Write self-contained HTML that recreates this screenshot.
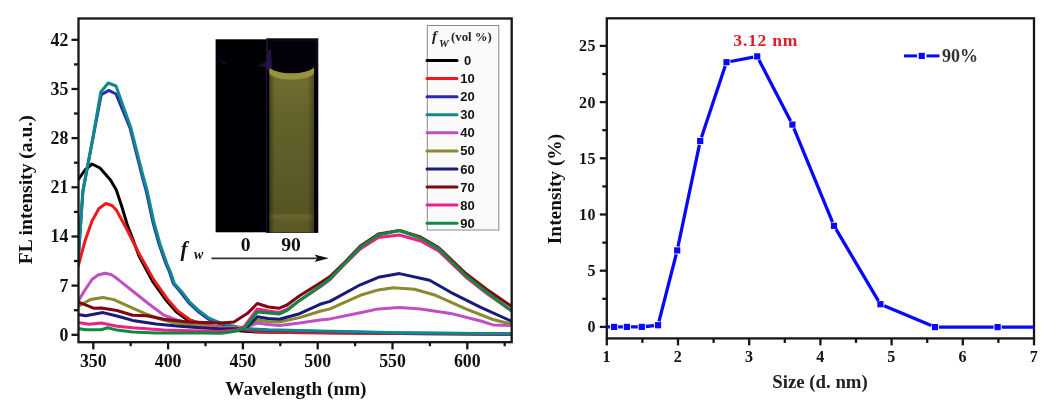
<!DOCTYPE html>
<html><head><meta charset="utf-8"><title>chart</title>
<style>html,body{margin:0;padding:0;background:#fff;}body{width:1060px;height:415px;overflow:hidden;font-family:"Liberation Serif",serif;}</style></head>
<body>
<svg width="1060" height="415" viewBox="0 0 1060 415" style="display:block;filter:blur(0.6px)">
<rect x="0" y="0" width="1060" height="415" fill="#ffffff"/>
<clipPath id="lc"><rect x="78.5" y="18.5" width="433.2" height="323.7"/></clipPath>
<g clip-path="url(#lc)" fill="none" stroke-width="3" stroke-linejoin="round" stroke-linecap="round">
<polyline stroke="#000000" points="78.0,180.0 85.0,170.0 92.0,164.0 100.0,168.0 110.5,180.0 116.3,190.0 121.7,206.3 127.1,224.3 132.0,237.0 139.0,256.0 153.0,282.0 165.5,299.5 176.5,312.0 189.0,321.0 200.0,324.5 210.0,327.0 221.0,329.0 245.0,331.3 257.0,332.0 280.0,332.3 320.0,332.6 400.0,333.4 512.0,334.2"/>
<polyline stroke="#f01818" points="78.0,267.0 85.0,241.0 92.0,221.0 99.0,208.5 105.8,203.5 112.0,205.5 116.3,210.0 127.1,229.8 139.8,255.0 154.2,280.4 166.9,298.4 177.7,311.0 190.4,320.0 201.2,323.7 210.0,325.5 221.3,327.0 244.8,330.0 257.3,331.5 279.3,332.2 299.6,332.8 320.0,333.0 400.0,333.6 512.0,334.3"/>
<polyline stroke="#2a2ab0" points="78.0,264.0 82.8,192.0 92.6,140.0 101.2,94.8 108.8,90.4 116.0,94.0 130.0,128.0 142.6,178.0 146.0,190.0 153.0,222.5 159.0,244.0 166.0,264.0 169.5,272.0 173.3,283.5 180.9,292.5 189.4,303.5 197.8,311.2 207.9,318.8 218.0,323.0 230.0,326.2 244.8,329.0 268.3,330.3 320.0,331.5 400.0,333.0 512.0,333.9"/>
<polyline stroke="#0e8a8a" points="78.0,262.0 83.0,190.0 92.8,138.0 100.8,92.0 108.2,83.0 116.0,86.0 130.8,127.5 143.6,178.0 147.0,190.0 154.0,222.5 160.0,244.0 167.0,264.0 170.5,272.0 174.3,283.5 181.9,291.9 190.4,302.9 198.8,310.5 208.9,318.1 219.0,322.3 230.8,325.5 244.8,328.5 268.3,329.8 320.0,331.0 400.0,332.8 512.0,333.8"/>
<polyline stroke="#c050c0" points="78.0,301.5 85.0,290.0 92.0,279.5 98.0,275.0 105.0,273.2 111.0,274.5 116.3,278.0 121.7,282.3 132.6,291.0 148.3,303.5 164.0,315.2 176.5,320.0 200.0,325.4 221.0,327.5 245.0,327.5 257.3,323.0 268.0,324.5 279.3,325.4 299.6,323.0 320.0,320.0 330.0,318.9 360.3,312.8 378.4,308.9 399.5,307.4 420.6,308.9 450.7,313.4 480.8,321.0 492.9,324.9 511.0,325.5"/>
<polyline stroke="#8a8a30" points="78.0,306.6 84.0,303.0 90.4,299.6 103.0,297.5 113.9,299.6 132.6,308.2 145.2,313.7 160.0,319.0 171.8,322.3 200.0,326.0 221.0,328.0 245.0,327.5 257.3,320.0 268.0,321.5 279.3,322.0 299.6,317.6 320.0,311.3 330.0,308.9 360.3,295.3 378.4,289.9 393.4,287.8 414.5,289.3 435.6,295.3 465.8,308.9 492.9,319.5 511.0,324.0"/>
<polyline stroke="#1a1a78" points="78.0,314.5 85.7,315.7 103.0,312.6 117.0,316.0 132.6,320.4 156.0,323.9 179.6,326.2 200.0,327.8 221.0,329.0 240.0,328.5 248.0,326.2 257.3,316.8 268.0,318.5 279.3,319.2 299.6,313.7 320.0,304.3 330.0,301.4 360.3,284.8 378.4,277.3 399.5,273.6 429.6,280.3 450.7,292.3 480.8,307.4 511.0,321.0"/>
<polyline stroke="#800812" points="78.0,302.0 93.5,308.2 101.3,307.9 117.0,310.5 132.6,315.2 146.7,315.7 164.0,319.2 187.5,322.0 205.7,322.6 221.3,323.0 233.9,322.0 248.0,312.9 257.3,303.5 268.3,307.0 279.3,308.2 287.0,305.0 299.6,295.7 320.0,283.0 330.0,276.5 345.0,262.0 360.3,246.0 378.4,234.0 399.5,230.5 420.6,237.0 438.6,247.5 465.8,273.5 486.9,289.5 511.0,306.0"/>
<polyline stroke="#f0208a" points="78.0,322.6 88.8,324.2 101.3,323.0 117.0,326.2 132.6,327.8 164.0,330.1 200.0,330.9 221.0,331.5 237.0,330.0 244.8,326.0 257.3,309.0 268.3,311.0 279.3,312.5 287.0,309.5 299.6,300.4 320.0,287.0 330.0,279.5 345.0,264.0 360.3,249.0 378.4,237.5 399.5,235.0 420.6,241.0 438.6,251.0 465.8,277.0 486.9,293.5 511.0,310.4"/>
<polyline stroke="#0e8a40" points="78.0,328.6 85.7,329.8 101.3,329.8 107.6,327.8 117.0,330.1 132.6,332.0 156.0,332.9 200.0,333.0 221.3,333.2 237.0,330.9 244.8,327.8 257.3,312.0 268.3,312.9 279.3,314.1 287.0,310.5 299.6,300.4 320.0,286.3 330.0,278.8 345.0,263.0 360.3,247.1 378.4,235.0 399.5,230.5 420.6,238.0 438.6,248.6 465.8,275.8 486.9,292.3 511.0,310.4"/>
</g>
<defs><linearGradient id="liq" x1="0" y1="0" x2="0" y2="1"><stop offset="0" stop-color="#737030"/><stop offset="0.3" stop-color="#64622b"/><stop offset="0.88" stop-color="#565423"/><stop offset="0.9" stop-color="#69672c"/><stop offset="0.93" stop-color="#5e5b27"/><stop offset="1" stop-color="#5a5726"/></linearGradient><linearGradient id="liqx" x1="0" y1="0" x2="1" y2="0"><stop offset="0" stop-color="#000" stop-opacity="0.35"/><stop offset="0.12" stop-color="#000" stop-opacity="0"/><stop offset="0.85" stop-color="#000" stop-opacity="0"/><stop offset="1" stop-color="#000" stop-opacity="0.3"/></linearGradient></defs>
<rect x="215.6" y="39.3" width="51" height="193" fill="#010004"/>
<rect x="266.2" y="38.3" width="52.1" height="194.6" fill="#04010a"/>
<rect x="267.5" y="40" width="49.5" height="30" fill="none" stroke="#1c1230" stroke-width="1"/>
<rect x="269.4" y="68" width="44.6" height="164.5" fill="url(#liq)"/>
<rect x="269.4" y="68" width="44.6" height="164.5" fill="url(#liqx)"/>
<path d="M269.4,65 L314,65 L314,67.5 C307,75.5 276,75.5 269.4,67.5 Z" fill="#04010a"/>
<path d="M269.4,67.3 C276,75.3 307,75.3 314,67.3 L314,73.5 C307,81.5 276,81.5 269.4,73.5 Z" fill="#96953e"/>
<path d="M258,66 L268,60 L268,68 Z" fill="#2a1a55" opacity="0.6"/>
<path d="M219,59 L222,60 L226,64 L224,64.5 Z" fill="#1e1350" opacity="0.7"/>
<path d="M268,50 L271,50 L272,68 L267,70 Z" fill="#2a1a55" opacity="0.8"/>
<rect x="78.5" y="18.5" width="433.2" height="323.7" fill="none" stroke="#161616" stroke-width="2.3"/>
<g stroke="#161616" stroke-width="2.3">
<line x1="71.5" y1="334.8" x2="78.5" y2="334.8"/>
<line x1="71.5" y1="285.6" x2="78.5" y2="285.6"/>
<line x1="71.5" y1="236.5" x2="78.5" y2="236.5"/>
<line x1="71.5" y1="187.3" x2="78.5" y2="187.3"/>
<line x1="71.5" y1="138.1" x2="78.5" y2="138.1"/>
<line x1="71.5" y1="89.0" x2="78.5" y2="89.0"/>
<line x1="71.5" y1="39.8" x2="78.5" y2="39.8"/>
<line x1="74.0" y1="310.2" x2="78.5" y2="310.2"/>
<line x1="74.0" y1="261.0" x2="78.5" y2="261.0"/>
<line x1="74.0" y1="211.9" x2="78.5" y2="211.9"/>
<line x1="74.0" y1="162.7" x2="78.5" y2="162.7"/>
<line x1="74.0" y1="113.5" x2="78.5" y2="113.5"/>
<line x1="74.0" y1="64.4" x2="78.5" y2="64.4"/>
<line x1="93.3" y1="342.2" x2="93.3" y2="349.4"/>
<line x1="168.1" y1="342.2" x2="168.1" y2="349.4"/>
<line x1="242.9" y1="342.2" x2="242.9" y2="349.4"/>
<line x1="317.7" y1="342.2" x2="317.7" y2="349.4"/>
<line x1="392.5" y1="342.2" x2="392.5" y2="349.4"/>
<line x1="467.3" y1="342.2" x2="467.3" y2="349.4"/>
<line x1="130.7" y1="342.2" x2="130.7" y2="346.2"/>
<line x1="205.5" y1="342.2" x2="205.5" y2="346.2"/>
<line x1="280.3" y1="342.2" x2="280.3" y2="346.2"/>
<line x1="355.1" y1="342.2" x2="355.1" y2="346.2"/>
<line x1="429.9" y1="342.2" x2="429.9" y2="346.2"/>
<line x1="504.7" y1="342.2" x2="504.7" y2="346.2"/>
</g>
<g font-family='"Liberation Serif", serif' font-weight="bold" font-size="17.8" fill="#111">
<text x="68.3" y="340.7" text-anchor="end">0</text>
<text x="68.3" y="291.5" text-anchor="end">7</text>
<text x="68.3" y="242.4" text-anchor="end">14</text>
<text x="68.3" y="193.2" text-anchor="end">21</text>
<text x="68.3" y="144.0" text-anchor="end">28</text>
<text x="68.3" y="94.9" text-anchor="end">35</text>
<text x="68.3" y="45.7" text-anchor="end">42</text>
<text x="93.3" y="367.1" text-anchor="middle">350</text>
<text x="168.1" y="367.1" text-anchor="middle">400</text>
<text x="242.9" y="367.1" text-anchor="middle">450</text>
<text x="317.7" y="367.1" text-anchor="middle">500</text>
<text x="392.5" y="367.1" text-anchor="middle">550</text>
<text x="467.3" y="367.1" text-anchor="middle">600</text>
</g>
<text x="295.9" y="395.2" text-anchor="middle" font-family='"Liberation Serif", serif' font-weight="bold" font-size="19.2" fill="#111">Wavelength (nm)</text>
<text transform="translate(32,189.7) rotate(-90)" text-anchor="middle" font-family='"Liberation Serif", serif' font-weight="bold" font-size="19.6" fill="#111">FL intensity (a.u.)</text>
<g font-family='"Liberation Serif", serif' font-weight="bold" font-size="19.6" fill="#111">
<text x="245.7" y="251" text-anchor="middle">0</text>
<text x="291" y="251" text-anchor="middle">90</text>
</g>
<text x="180.5" y="255.8" font-family='"Liberation Serif", serif' font-weight="bold" font-style="italic" font-size="21" fill="#111">f</text>
<text x="194" y="259" font-family='"Liberation Serif", serif' font-weight="bold" font-style="italic" font-size="14" fill="#111">w</text>
<line x1="211.5" y1="258.3" x2="320" y2="258.3" stroke="#333" stroke-width="1.8"/>
<path d="M328.8,258.3 L314.5,254.6 L317.5,258.3 L314.5,262 Z" fill="#111"/>
<rect x="427.3" y="25.5" width="71.5" height="204.5" fill="#fafafa" stroke="#8a8a8a" stroke-width="1"/>
<text x="432" y="41.2" font-family='"Liberation Serif", serif' font-weight="bold" font-style="italic" font-size="15" fill="#222">f</text>
<text x="439" y="47.3" font-family='"Liberation Serif", serif' font-weight="bold" font-style="italic" font-size="11" fill="#222">W</text>
<text x="451" y="40.6" font-family='"Liberation Serif", serif' font-weight="bold" font-size="12.8" fill="#222">(vol %)</text>
<line x1="427" y1="60.5" x2="457" y2="60.5" stroke="#000000" stroke-width="3" stroke-linecap="round"/>
<text x="464" y="65.0" font-family='"Liberation Sans", sans-serif' font-weight="bold" font-size="13" fill="#111">0</text>
<line x1="427" y1="78.6" x2="457" y2="78.6" stroke="#f01818" stroke-width="3" stroke-linecap="round"/>
<text x="460.3" y="83.1" font-family='"Liberation Sans", sans-serif' font-weight="bold" font-size="13" fill="#111">10</text>
<line x1="427" y1="96.7" x2="457" y2="96.7" stroke="#2a2ab0" stroke-width="3" stroke-linecap="round"/>
<text x="460.3" y="101.2" font-family='"Liberation Sans", sans-serif' font-weight="bold" font-size="13" fill="#111">20</text>
<line x1="427" y1="114.7" x2="457" y2="114.7" stroke="#0e8a8a" stroke-width="3" stroke-linecap="round"/>
<text x="460.3" y="119.2" font-family='"Liberation Sans", sans-serif' font-weight="bold" font-size="13" fill="#111">30</text>
<line x1="427" y1="132.8" x2="457" y2="132.8" stroke="#c050c0" stroke-width="3" stroke-linecap="round"/>
<text x="460.3" y="137.3" font-family='"Liberation Sans", sans-serif' font-weight="bold" font-size="13" fill="#111">40</text>
<line x1="427" y1="150.9" x2="457" y2="150.9" stroke="#8a8a30" stroke-width="3" stroke-linecap="round"/>
<text x="460.3" y="155.4" font-family='"Liberation Sans", sans-serif' font-weight="bold" font-size="13" fill="#111">50</text>
<line x1="427" y1="169.0" x2="457" y2="169.0" stroke="#1a1a78" stroke-width="3" stroke-linecap="round"/>
<text x="460.3" y="173.5" font-family='"Liberation Sans", sans-serif' font-weight="bold" font-size="13" fill="#111">60</text>
<line x1="427" y1="187.1" x2="457" y2="187.1" stroke="#800812" stroke-width="3" stroke-linecap="round"/>
<text x="460.3" y="191.6" font-family='"Liberation Sans", sans-serif' font-weight="bold" font-size="13" fill="#111">70</text>
<line x1="427" y1="205.1" x2="457" y2="205.1" stroke="#f0208a" stroke-width="3" stroke-linecap="round"/>
<text x="460.3" y="209.6" font-family='"Liberation Sans", sans-serif' font-weight="bold" font-size="13" fill="#111">80</text>
<line x1="427" y1="223.2" x2="457" y2="223.2" stroke="#0e8a40" stroke-width="3" stroke-linecap="round"/>
<text x="460.3" y="227.7" font-family='"Liberation Sans", sans-serif' font-weight="bold" font-size="13" fill="#111">90</text>
<rect x="606.8" y="18.3" width="427.20000000000005" height="320.09999999999997" fill="none" stroke="#161616" stroke-width="2.3"/>
<g stroke="#161616" stroke-width="2.3">
<line x1="599.8" y1="326.9" x2="606.8" y2="326.9"/>
<line x1="599.8" y1="270.7" x2="606.8" y2="270.7"/>
<line x1="599.8" y1="214.5" x2="606.8" y2="214.5"/>
<line x1="599.8" y1="158.3" x2="606.8" y2="158.3"/>
<line x1="599.8" y1="102.1" x2="606.8" y2="102.1"/>
<line x1="599.8" y1="45.9" x2="606.8" y2="45.9"/>
<line x1="602.3" y1="298.8" x2="606.8" y2="298.8"/>
<line x1="602.3" y1="242.6" x2="606.8" y2="242.6"/>
<line x1="602.3" y1="186.4" x2="606.8" y2="186.4"/>
<line x1="602.3" y1="130.2" x2="606.8" y2="130.2"/>
<line x1="602.3" y1="74.0" x2="606.8" y2="74.0"/>
<line x1="606.8" y1="338.4" x2="606.8" y2="345.4"/>
<line x1="678.0" y1="338.4" x2="678.0" y2="345.4"/>
<line x1="749.2" y1="338.4" x2="749.2" y2="345.4"/>
<line x1="820.4" y1="338.4" x2="820.4" y2="345.4"/>
<line x1="891.6" y1="338.4" x2="891.6" y2="345.4"/>
<line x1="962.8" y1="338.4" x2="962.8" y2="345.4"/>
<line x1="1034.0" y1="338.4" x2="1034.0" y2="345.4"/>
<line x1="642.4" y1="338.4" x2="642.4" y2="342.9"/>
<line x1="713.6" y1="338.4" x2="713.6" y2="342.9"/>
<line x1="784.8" y1="338.4" x2="784.8" y2="342.9"/>
<line x1="856.0" y1="338.4" x2="856.0" y2="342.9"/>
<line x1="927.2" y1="338.4" x2="927.2" y2="342.9"/>
<line x1="998.4" y1="338.4" x2="998.4" y2="342.9"/>
</g>
<g font-family='"Liberation Serif", serif' font-weight="bold" font-size="16" letter-spacing="0.5" fill="#111">
<text x="596" y="332.3" text-anchor="end">0</text>
<text x="596" y="276.1" text-anchor="end">5</text>
<text x="596" y="219.9" text-anchor="end">10</text>
<text x="596" y="163.7" text-anchor="end">15</text>
<text x="596" y="107.5" text-anchor="end">20</text>
<text x="596" y="51.3" text-anchor="end">25</text>
<text x="606.8" y="362.3" text-anchor="middle">1</text>
<text x="678.0" y="362.3" text-anchor="middle">2</text>
<text x="749.2" y="362.3" text-anchor="middle">3</text>
<text x="820.4" y="362.3" text-anchor="middle">4</text>
<text x="891.6" y="362.3" text-anchor="middle">5</text>
<text x="962.8" y="362.3" text-anchor="middle">6</text>
<text x="1034.0" y="362.3" text-anchor="middle">7</text>
</g>
<text x="820" y="387.8" text-anchor="middle" font-family='"Liberation Serif", serif' font-weight="bold" font-size="18.8" fill="#222">Size (d. nm)</text>
<text transform="translate(561.2,189) rotate(-90)" text-anchor="middle" font-family='"Liberation Serif", serif' font-weight="bold" font-size="19.4" fill="#111">Intensity (%)</text>
<path d="M606.8,326.9 L610.1,326.9 M618.1,326.9 L622.9,326.9 M630.9,326.9 L637.8,326.9 M645.8,326.5 L654.0,325.6 M659.0,321.3 L676.2,254.3 M678.0,246.5 L699.4,144.9 M701.5,137.2 L725.2,66.0 M730.4,61.5 L753.3,57.1 M759.0,60.0 L790.6,121.0 M793.9,128.3 L832.5,222.1 M836.0,229.2 L878.4,300.8 M884.1,305.7 L931.3,325.6 M939.0,327.1 L993.6,327.1 M1001.6,327.1 L1034.0,327.1" fill="none" stroke="#0808fa" stroke-width="3.3"/>
<rect x="611.0" y="323.8" width="6.2" height="6.2" fill="#0808fa"/>
<rect x="623.8" y="323.8" width="6.2" height="6.2" fill="#0808fa"/>
<rect x="638.7" y="323.8" width="6.2" height="6.2" fill="#0808fa"/>
<rect x="654.9" y="322.1" width="6.2" height="6.2" fill="#0808fa"/>
<rect x="674.1" y="247.3" width="6.2" height="6.2" fill="#0808fa"/>
<rect x="697.1" y="137.9" width="6.2" height="6.2" fill="#0808fa"/>
<rect x="723.4" y="59.1" width="6.2" height="6.2" fill="#0808fa"/>
<rect x="754.1" y="53.3" width="6.2" height="6.2" fill="#0808fa"/>
<rect x="789.3" y="121.5" width="6.2" height="6.2" fill="#0808fa"/>
<rect x="830.9" y="222.7" width="6.2" height="6.2" fill="#0808fa"/>
<rect x="877.3" y="301.1" width="6.2" height="6.2" fill="#0808fa"/>
<rect x="931.9" y="324.0" width="6.2" height="6.2" fill="#0808fa"/>
<rect x="994.5" y="324.0" width="6.2" height="6.2" fill="#0808fa"/>
<text x="765.8" y="46.3" text-anchor="middle" font-family='"Liberation Serif", serif' font-weight="bold" font-size="17.6" letter-spacing="0.75" fill="#e01c24">3.12 nm</text>
<line x1="904" y1="55.9" x2="917" y2="55.9" stroke="#0808fa" stroke-width="3"/>
<line x1="926.5" y1="55.9" x2="939.5" y2="55.9" stroke="#0808fa" stroke-width="3"/>
<rect x="918.6" y="52.8" width="6.2" height="6.2" fill="#0808fa"/>
<text x="942" y="61.5" font-family='"Liberation Serif", serif' font-weight="bold" font-size="18" fill="#333">90%</text>
</svg>
</body></html>
